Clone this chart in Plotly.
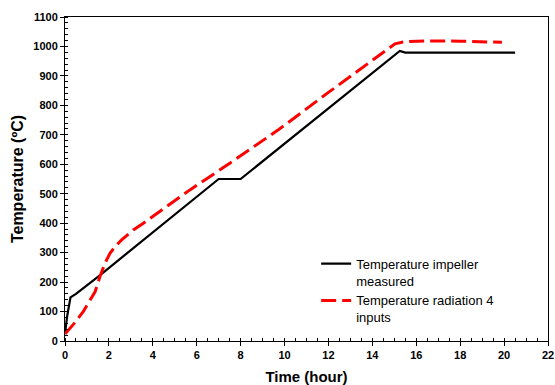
import plotly.graph_objects as go

# Measured impeller temperature
black_t = [0, 0.1, 0.25, 0.5, 1.6, 7.0, 8.0, 15.25, 15.5, 20.5]
black_T = [25, 85, 148, 160, 224, 550, 550, 985, 979, 979]

# Radiation model, 4 inputs
red_t = [0, 0.4, 0.83, 1.1, 1.37, 1.59, 1.82, 2.05, 2.3, 2.58, 3.11, 3.57, 4.5,
         5.69, 7.06, 9.7, 12, 14.5, 15.03, 15.4, 15.7, 16.5, 18, 19.9]
red_T = [24, 58, 100, 132, 167, 218, 264, 298, 322, 343, 377, 400, 449,
         513, 581, 716, 844, 980, 1009, 1015, 1017, 1019, 1018, 1014]

name_black = "Temperature impeller<br>measured"
name_red = "Temperature radiation 4<br>inputs"

x_ticks = list(range(0, 23, 2))
y_ticks = list(range(0, 1101, 100))

FONT = "Liberation Sans, Arial, sans-serif"

fig = go.Figure()
fig.add_trace(go.Scatter(x=black_t, y=black_T, mode="lines", name=name_black,
                         line=dict(color="black", width=2.2)))
fig.add_trace(go.Scatter(x=red_t, y=red_T, mode="lines", name=name_red,
                         line=dict(color="#ff0000", width=3, dash="15px,6px")))

axis_common = dict(
    showline=True, linecolor="black", linewidth=1, mirror=True,
    showgrid=False, zeroline=False, automargin=False,
    ticks="outside", ticklen=4, tickcolor="black", tickwidth=1,
    tickfont=dict(family=FONT, size=11, color="black", weight="bold"),
)

fig.update_xaxes(
    range=[0, 22], tickvals=x_ticks, ticktext=[str(v) for v in x_ticks],
    minor=dict(ticks="inside", dtick=0.5, ticklen=3, tickcolor="black", tickwidth=1),
    title=dict(text="Time (hour)", font=dict(family=FONT, size=15, color="black", weight="bold"),
               standoff=12),
    **axis_common,
)
fig.update_yaxes(
    range=[0, 1100], tickvals=y_ticks, ticktext=[str(v) for v in y_ticks],
    minor=dict(ticks="inside", dtick=20, ticklen=3, tickcolor="black", tickwidth=1),
    title=dict(text="Temperature (ºC)", font=dict(family=FONT, size=16, color="black", weight="bold"),
               standoff=5),
    **axis_common,
)

fig.update_layout(
    width=555, height=385,
    margin=dict(l=65, r=7, t=17, b=44),
    paper_bgcolor="white", plot_bgcolor="white",
    font=dict(family=FONT, color="black"),
    showlegend=True,
    legend=dict(x=0.52, y=0.285, xanchor="left", yanchor="top",
                bgcolor="rgba(0,0,0,0)", borderwidth=0,
                font=dict(family=FONT, size=13, color="black"),
                itemwidth=30, valign="top", tracegroupgap=2),
)

fig.write_html("out.html",
               config={"displayModeBar": False, "staticPlot": True},
               post_script="document.body.style.margin='0';document.body.style.overflow='hidden';")
